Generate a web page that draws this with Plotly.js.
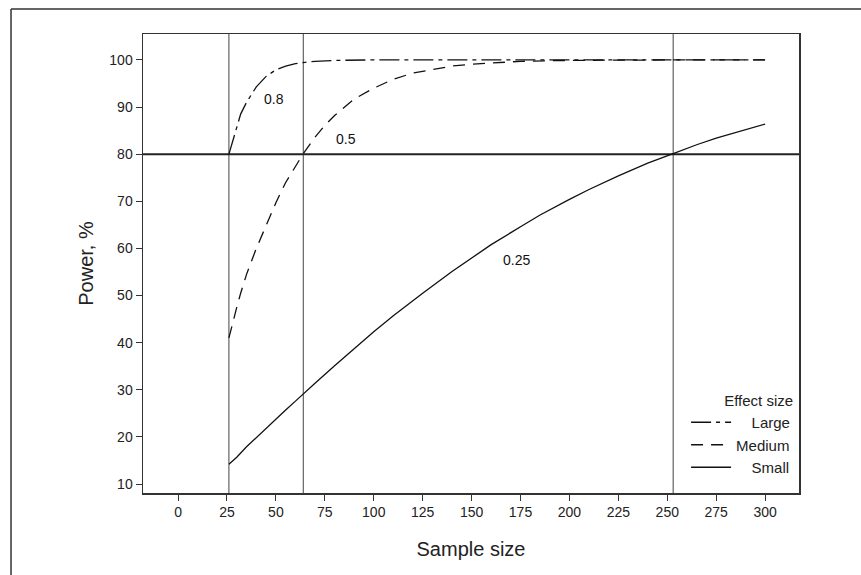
<!DOCTYPE html>
<html>
<head>
<meta charset="utf-8">
<script src="https://cdn.plot.ly/plotly-3.0.1.min.js"></script>
<style>
  html, body { margin: 0; padding: 0; background: #fff; }
  #chart { width: 861px; height: 575px; }
</style>
</head>
<body>
<div id="chart"></div>
<script>
// ---- data ----
const seriesNames = ["Large", "Medium", "Small"];
const effectLabels = ["0.8", "0.5", "0.25"];

const largeN =     [26, 28, 30, 32, 35, 38, 40, 45, 50, 55, 60, 65, 70, 80, 90, 100, 125, 150, 175, 200, 225, 250, 275, 300];
const largePower = [80, 83, 86, 88.5, 91, 93, 94.3, 96.5, 97.9, 98.7, 99.2, 99.5, 99.7, 99.9, 100, 100, 100, 100, 100, 100, 100, 100, 100, 100];

const mediumN =     [26, 28, 30, 32, 35, 40, 45, 50, 55, 60, 64, 70, 75, 80, 90, 100, 110, 120, 130, 140, 150, 160, 175, 200, 225, 250, 275, 300];
const mediumPower = [41, 44.5, 47.5, 50.5, 54.5, 60, 65, 69.7, 74, 77.5, 80.1, 83.6, 86.1, 88.2, 91.7, 94.0, 95.9, 97.2, 98.0, 98.7, 99.1, 99.4, 99.7, 99.9, 100, 100, 100, 100];

const smallN =     [26, 30, 35, 40, 45, 50, 55, 60, 64, 70, 80, 90, 100, 110, 125, 140, 150, 160, 175, 185, 200, 210, 225, 240, 253, 265, 275, 290, 300];
const smallPower = [14.2, 15.7, 17.9, 19.9, 21.8, 23.7, 25.7, 27.6, 29.2, 31.4, 35.1, 38.8, 42.3, 45.7, 50.5, 55.1, 58.0, 60.8, 64.6, 67.1, 70.4, 72.5, 75.4, 78.1, 80.1, 82.0, 83.4, 85.2, 86.4];

const refN = [26, 64, 253];      // sample sizes reaching 80% power
const refPower = 80;              // target power

const xTicks = [0, 25, 50, 75, 100, 125, 150, 175, 200, 225, 250, 275, 300];
const yTicks = [10, 20, 30, 40, 50, 60, 70, 80, 90, 100];

// label positions (data coords) for the effect-size annotations
const labelN = [49, 86, 173];
const labelPower = [91.7, 83.3, 57.5];

// ---- chart ----
const FONT = "Liberation Sans, Arial, Helvetica, sans-serif";
const ink = "#111";
// pad shorter names so legend text lines up on the right like the reference
const pad = "\u00a0\u00a0\u00a0\u2009";
const legendNames = [pad + seriesNames[0], seriesNames[1], pad + seriesNames[2]];

const traces = [
  { x: largeN, y: largePower, name: legendNames[0], mode: "lines",
    line: { color: ink, width: 1.3, dash: "20px,5px,4px,5px" } },
  { x: mediumN, y: mediumPower, name: legendNames[1], mode: "lines",
    line: { color: ink, width: 1.3, dash: "12px,8px" } },
  { x: smallN, y: smallPower, name: legendNames[2], mode: "lines",
    line: { color: ink, width: 1.3, dash: "solid" } }
];

const shapes = [];
refN.forEach(n => shapes.push({
  type: "line", xref: "x", yref: "paper", x0: n, x1: n, y0: 0, y1: 1,
  line: { color: "#444", width: 1 }, layer: "below"
}));
shapes.push({
  type: "line", xref: "paper", yref: "y", x0: 0, x1: 1, y0: refPower, y1: refPower,
  line: { color: "#222", width: 2 }, layer: "below"
});
// outer figure frame (top and left edges)
shapes.push({ type: "line", xref: "paper", yref: "paper", x0: -0.2012, x1: 1.12, y0: 1.0545, y1: 1.0545,
  line: { color: "#333", width: 1.5 } });
shapes.push({ type: "line", xref: "paper", yref: "paper", x0: -0.2012, x1: -0.2012, y0: -0.25, y1: 1.0545,
  line: { color: "#333", width: 1.5 } });

const annotations = effectLabels.map((t, i) => ({
  text: t, x: labelN[i], y: labelPower[i], xref: "x", yref: "y",
  showarrow: false, font: { family: FONT, size: 14, color: ink }
}));

const axisCommon = {
  showgrid: false, zeroline: false, showline: true, mirror: true,
  linecolor: "#333", linewidth: 1.5,
  ticks: "outside", ticklen: 6, tickwidth: 1, tickcolor: "#333",
  tickfont: { family: FONT, size: 14, color: "#222" }
};

const layout = {
  width: 861, height: 575,
  margin: { l: 143, r: 62, t: 34, b: 82, pad: 0 },
  paper_bgcolor: "#fff", plot_bgcolor: "#fff",
  font: { family: FONT, color: ink },
  xaxis: Object.assign({}, axisCommon, {
    range: [-17.9, 317.3], tickmode: "array", tickvals: xTicks,
    title: { text: "Sample size", font: { family: FONT, size: 20, color: "#222" }, standoff: 22 }
  }),
  yaxis: Object.assign({}, axisCommon, {
    range: [8.1, 105.5], tickmode: "array", tickvals: yTicks,
    title: { text: "Power, %", font: { family: FONT, size: 20, color: "#222" }, standoff: 10 }
  }),
  showlegend: true,
  legend: {
    x: 0.994, xanchor: "right", y: 0.232, yanchor: "top",
    bgcolor: "rgba(0,0,0,0)", borderwidth: 0,
    font: { family: FONT, size: 15, color: "#222" },
    title: { text: "Effect size", side: "top right", font: { family: FONT, size: 15, color: "#222" } },
    itemwidth: 40
  },
  shapes: shapes,
  annotations: annotations
};

Plotly.newPlot("chart", traces, layout, { displayModeBar: false, staticPlot: true });
</script>
</body>
</html>
